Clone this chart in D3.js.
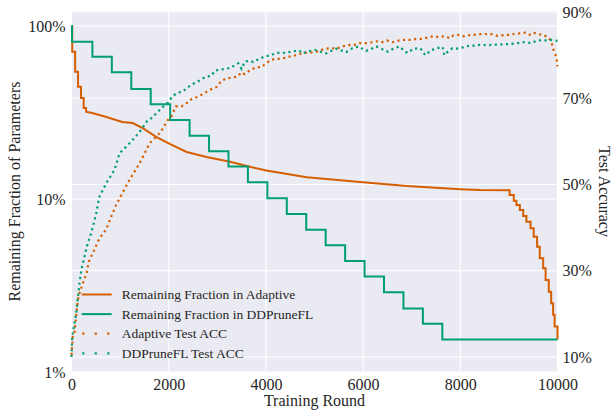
<!DOCTYPE html>
<html>
<head>
<meta charset="utf-8">
<script src="https://cdn.jsdelivr.net/npm/d3@7"></script>
<style>
  html, body { margin: 0; padding: 0; background: #ffffff; }
  svg { display: block; font-family: "Liberation Serif", "Times New Roman", serif; }
</style>
</head>
<body>
<svg id="chart" width="614" height="410"></svg>
<script>
// ---- data -------------------------------------------------------------
// Remaining fraction of parameters, DDPruneFL (value holds from the given round on)
const ddRounds = [0, 10, 430, 830, 1230, 1630, 2030, 2430, 2830, 3230, 3630, 4030,
  4430, 4830, 5230, 5630, 6030, 6430, 6830, 7230, 7630, 10000];
const ddFrac = [1.0, 0.811, 0.665, 0.540, 0.432, 0.353, 0.286, 0.232, 0.189, 0.154,
  0.125, 0.101, 0.082, 0.0665, 0.054, 0.0438, 0.0356, 0.0289, 0.0233, 0.019, 0.0154, 0.0154];

// Remaining fraction of parameters, Adaptive
const adRounds = [0, 15, 75, 135, 195, 250, 300, 425, 700, 1045, 1260, 1465, 1750, 2020,
  2370, 2780, 3260, 3610, 4010, 4840, 6000, 6900, 8000, 8410, 8950, 9015, 9100, 9155,
  9225, 9295, 9360, 9445, 9510, 9580, 9635, 9705, 9755, 9820, 9870, 9910, 9940, 10000];
const adFrac = [1.0, 0.71, 0.544, 0.446, 0.384, 0.336, 0.32, 0.314, 0.299, 0.279, 0.275,
  0.257, 0.228, 0.208, 0.187, 0.175, 0.164, 0.155, 0.146, 0.1335, 0.125, 0.119, 0.114,
  0.1127, 0.1125, 0.1055, 0.0977, 0.0923, 0.0864, 0.0798, 0.0739, 0.0677, 0.0605, 0.053,
  0.0454, 0.0398, 0.034, 0.0291, 0.025, 0.0214, 0.0183, 0.0154];
// pruning happens in discrete jumps before/after these rounds, gradually in between
const adSmoothFrom = 300, adSmoothTo = 8950;

// Test accuracy, Adaptive
const adAccRounds = [0, 25, 60, 130, 165, 235, 315, 355, 475, 575, 715, 820, 920, 990,
  1195, 1400, 1610, 1815, 1880, 1985, 2055, 2145, 2260, 2350, 2470, 2570, 2675, 2810,
  2915, 2985, 3085, 3190, 3410, 3500, 3565, 3635, 3705, 3810, 3910, 3980, 4105, 4185,
  4290, 4410, 4530, 4635, 4755, 4940, 5080, 5215, 5355, 5460, 5560, 5700, 5835, 5925,
  6075, 6200, 6280, 6385, 6490, 6610, 6740, 6810, 6990, 7105, 7220, 7435, 7550, 7675,
  7795, 7860, 7945, 8070, 8150, 8295, 8410, 8515, 8640, 8755, 8860, 8995, 9115, 9235,
  9340, 9430, 9500, 9615, 9705, 9790, 9855, 9890, 9925, 9960, 9980, 10000];
const adAcc = [0.105, 0.147, 0.155, 0.232, 0.248, 0.271, 0.296, 0.321, 0.35, 0.375,
  0.396, 0.426, 0.453, 0.468, 0.511, 0.549, 0.596, 0.619, 0.630, 0.65, 0.658, 0.681,
  0.681, 0.687, 0.698, 0.702, 0.708, 0.717, 0.723, 0.726, 0.740, 0.746, 0.75, 0.760,
  0.756, 0.762, 0.767, 0.772, 0.772, 0.779, 0.789, 0.791, 0.7915, 0.794, 0.798, 0.80,
  0.805, 0.806, 0.809, 0.815, 0.816, 0.815, 0.82, 0.823, 0.824, 0.828, 0.828, 0.830,
  0.832, 0.830, 0.834, 0.830, 0.834, 0.8355, 0.8355, 0.8378, 0.8378, 0.8436, 0.842,
  0.8436, 0.8396, 0.846, 0.847, 0.8436, 0.846, 0.847, 0.8485, 0.849, 0.8485, 0.8448,
  0.846, 0.847, 0.849, 0.8507, 0.852, 0.847, 0.852, 0.8485, 0.847, 0.842, 0.8355,
  0.824, 0.81, 0.80, 0.793, 0.774];

// Test accuracy, DDPruneFL
const ddAccRounds = [0, 15, 95, 165, 200, 250, 315, 405, 510, 540, 575, 715, 885, 990,
  1130, 1230, 1320, 1435, 1550, 1645, 1745, 1850, 1985, 2090, 2190, 2295, 2400, 2500,
  2605, 2705, 2775, 2880, 2950, 3050, 3260, 3430, 3500, 3565, 3670, 3740, 3855, 3980,
  4115, 4205, 4355, 4685, 4755, 4840, 5010, 5235, 5445, 5650, 5780, 5905, 6060, 6165,
  6270, 6510, 6625, 6750, 6845, 6915, 7035, 7175, 7280, 7380, 7485, 7635, 7670, 7760,
  7840, 7930, 8055, 8190, 8310, 8400, 8535, 8790, 8905, 9030, 9170, 9320, 9445, 9600,
  9755, 9855, 10000];
const ddAcc = [0.10, 0.147, 0.201, 0.271, 0.30, 0.325, 0.356, 0.387, 0.433, 0.453,
  0.472, 0.503, 0.534, 0.5725, 0.588, 0.60, 0.611, 0.627, 0.646, 0.654, 0.665, 0.677,
  0.69, 0.706, 0.713, 0.716, 0.726, 0.733, 0.739, 0.746, 0.75, 0.752, 0.764, 0.766,
  0.77, 0.781, 0.768, 0.785, 0.787, 0.784, 0.791, 0.797, 0.80, 0.805, 0.805, 0.811,
  0.804, 0.808, 0.812, 0.804, 0.815, 0.807, 0.816, 0.82, 0.81, 0.814, 0.82, 0.808,
  0.815, 0.82, 0.81, 0.805, 0.815, 0.816, 0.80, 0.81, 0.815, 0.819, 0.80, 0.81, 0.816,
  0.815, 0.818, 0.822, 0.822, 0.824, 0.823, 0.8247, 0.825, 0.826, 0.8275, 0.83, 0.828,
  0.8345, 0.834, 0.8355, 0.833];

// axis ticks
const roundTicks = [0, 2000, 4000, 6000, 8000, 10000];
const fracTicks = [0.01, 0.1, 1];
const accTicks = [0.1, 0.3, 0.5, 0.7, 0.9];

const legendLabels = [
  "Remaining Fraction in Adaptive",
  "Remaining Fraction in DDPruneFL",
  "Adaptive Test ACC",
  "DDPruneFL Test ACC"
];

// ---- layout & scales ------------------------------------------------------
const ORANGE = "#d55e00", GREEN = "#029e73", INK = "#262626";
const box = { left: 71.5, right: 557.5, top: 11, bottom: 372 };

const x = d3.scaleLinear().domain([0, 10000]).range([box.left, box.right]);
const yFrac = d3.scaleLog().domain([0.01, 1.221]).range([box.bottom, box.top]);
const yAcc = d3.scaleLinear().domain([0.0652, 0.9023]).range([box.bottom, box.top]);

const svg = d3.select("#chart");

// plot background
svg.append("rect")
  .attr("x", box.left).attr("y", box.top)
  .attr("width", box.right - box.left).attr("height", box.bottom - box.top)
  .attr("fill", "#eaeaf2");

// grid lines from both y axes and the x axis
const grid = svg.append("g").attr("stroke", "#ffffff").attr("stroke-width", 1.1);
grid.selectAll(".gx").data(roundTicks).join("line")
  .attr("x1", d => x(d)).attr("x2", d => x(d))
  .attr("y1", box.top).attr("y2", box.bottom);
grid.selectAll(".gf").data(fracTicks).join("line")
  .attr("x1", box.left).attr("x2", box.right)
  .attr("y1", d => yFrac(d)).attr("y2", d => yFrac(d));
grid.selectAll(".ga").data(accTicks).join("line")
  .attr("x1", box.left).attr("x2", box.right)
  .attr("y1", d => yAcc(d)).attr("y2", d => yAcc(d));

// ---- axes -------------------------------------------------------------------
function styleAxis(g) {
  g.select(".domain").remove();
  g.selectAll(".tick line").remove();
  g.selectAll("text")
    .attr("fill", INK)
    .style("font-size", "16px")
    .style("font-family", '"Liberation Serif", "Times New Roman", serif');
}
const pct = d3.format(".0%");

svg.append("g")
  .attr("transform", `translate(0,${box.bottom})`)
  .call(d3.axisBottom(x).tickValues(roundTicks).tickFormat(d3.format("d")).tickSize(0).tickPadding(7))
  .call(styleAxis);

svg.append("g")
  .attr("transform", `translate(${box.left},0)`)
  .call(d3.axisLeft(yFrac).tickValues(fracTicks).tickFormat(pct).tickSize(0).tickPadding(6))
  .call(styleAxis);

svg.append("g")
  .attr("transform", `translate(${box.right},0)`)
  .call(d3.axisRight(yAcc).tickValues(accTicks).tickFormat(pct).tickSize(0).tickPadding(5))
  .call(styleAxis);

// axis titles
const midY = (box.top + box.bottom) / 2;
svg.append("text")
  .attr("transform", `translate(20,${midY}) rotate(-90)`)
  .attr("text-anchor", "middle").attr("fill", INK).style("font-size", "16px")
  .text("Remaining Fraction of Parameters");
svg.append("text")
  .attr("transform", `translate(599,${midY}) rotate(90)`)
  .attr("text-anchor", "middle").attr("fill", INK).style("font-size", "16px")
  .text("Test Accuracy");
svg.append("text")
  .attr("x", (box.left + box.right) / 2).attr("y", 405.5)
  .attr("text-anchor", "middle").attr("fill", INK).style("font-size", "16px")
  .text("Training Round");

// ---- series -------------------------------------------------------------------
const zipPts = (rs, vs) => rs.map((r, i) => [r, vs[i]]);
const ddPts = zipPts(ddRounds, ddFrac);
const adPts = zipPts(adRounds, adFrac);
const adAccPts = zipPts(adAccRounds, adAcc);
const ddAccPts = zipPts(ddAccRounds, ddAcc);

const fracLine = curve => d3.line().x(d => x(d[0])).y(d => yFrac(d[1])).curve(curve);
const accLine = d3.line().x(d => x(d[0])).y(d => yAcc(d[1])).curve(d3.curveLinear);

const solid = svg.append("g").attr("fill", "none")
  .attr("stroke-width", 2).attr("stroke-linejoin", "miter");

// Adaptive: staircase, gradual decline, staircase
const adHead = adPts.filter(d => d[0] <= adSmoothFrom);
const adBody = adPts.filter(d => d[0] >= adSmoothFrom && d[0] <= adSmoothTo);
const adTail = adPts.filter(d => d[0] >= adSmoothTo);
const adPath = fracLine(d3.curveStepAfter)(adHead)
  + fracLine(d3.curveLinear)(adBody).replace(/^M/, "L")
  + fracLine(d3.curveStepAfter)(adTail).replace(/^M/, "L");
solid.append("path").attr("d", adPath).attr("stroke", ORANGE);

// DDPruneFL: fixed-interval staircase
solid.append("path").attr("d", fracLine(d3.curveStepAfter)(ddPts)).attr("stroke", GREEN);

// accuracy curves, dotted
const dotted = svg.append("g").attr("fill", "none")
  .attr("stroke-width", 2.2).attr("stroke-dasharray", "2.2 3.4");
dotted.append("path").attr("d", accLine(adAccPts)).attr("stroke", ORANGE);
dotted.append("path").attr("d", accLine(ddAccPts)).attr("stroke", GREEN);

// ---- legend ---------------------------------------------------------------------
const legend = svg.append("g");
const legendRows = [
  { label: legendLabels[0], color: ORANGE, dash: null },
  { label: legendLabels[1], color: GREEN, dash: null },
  { label: legendLabels[2], color: ORANGE, dash: "2.2 10.3" },
  { label: legendLabels[3], color: GREEN, dash: "2.2 10.3" }
];
legendRows.forEach((row, i) => {
  const cy = 294.5 + i * 19.6;
  legend.append("line")
    .attr("x1", row.dash ? 82.2 : 81.7).attr("x2", 111.7)
    .attr("y1", cy).attr("y2", cy)
    .attr("stroke", row.color).attr("stroke-width", row.dash ? 2.2 : 2)
    .attr("stroke-dasharray", row.dash);
  legend.append("text")
    .attr("x", 121.7).attr("y", cy).attr("dy", "0.33em")
    .attr("fill", INK).style("font-size", "13.5px")
    .text(row.label);
});
</script>
</body>
</html>
